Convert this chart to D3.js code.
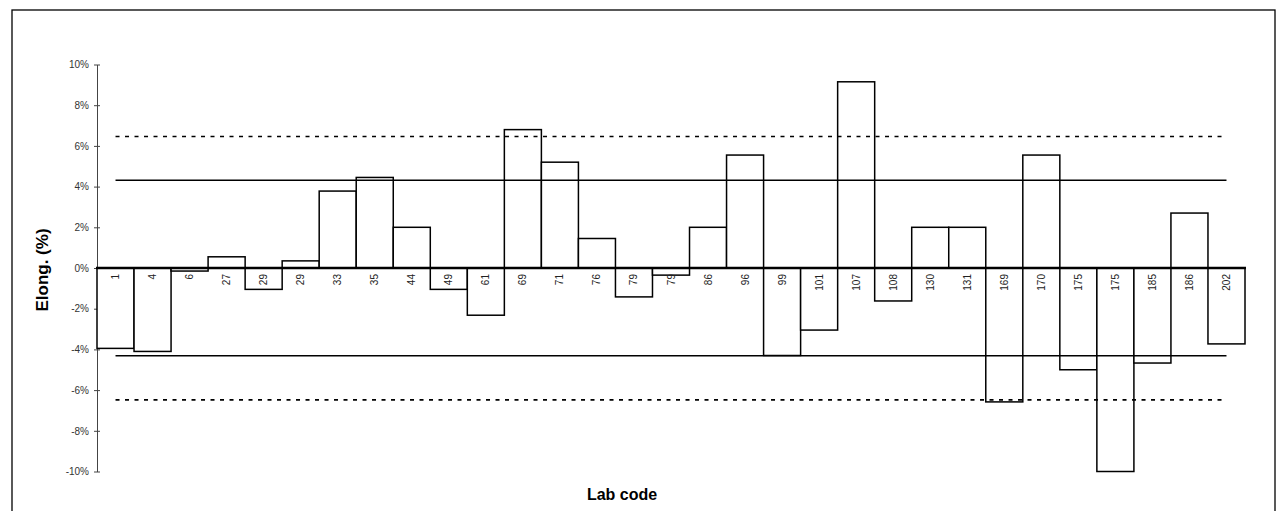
<!DOCTYPE html>
<html>
<head>
<meta charset="utf-8">
<script src="https://cdn.jsdelivr.net/npm/d3@7"></script>
<style>
  html, body { margin: 0; padding: 0; background: #fff; }
  svg { display: block; }
  text { font-family: "Liberation Sans", Arial, sans-serif; }
</style>
</head>
<body>
<svg id="chart" width="1282" height="511"></svg>
<script>
// ---- data ----
const labCodes = ["1","4","6","27","29","29","33","35","44","49","61","69","71","76","79","79","86","96","99","101","107","108","130","131","169","170","175","175","185","186","202"];
const elongValues = [-3.95,-4.1,-0.15,0.55,-1.05,0.35,3.78,4.45,2.0,-1.05,-2.32,6.8,5.2,1.45,-1.42,-0.35,2.0,5.55,-4.3,-3.05,9.15,-1.62,2.0,2.0,-6.58,5.55,-5.0,-10.0,-4.67,2.7,-3.73];
const solidLimits = [4.31, -4.31];
const dottedLimits = [6.46, -6.48];
const yTicks = [-10,-8,-6,-4,-2,0,2,4,6,8,10];

// ---- layout ----
const svg = d3.select("#chart");
const x = d3.scaleBand().domain(d3.range(labCodes.length)).range([97, 1245]).padding(0);
const y = d3.scaleLinear().domain([-10, 10]).range([471.5, 64.5]);

// outer border
svg.append("rect").attr("x", 12).attr("y", 10).attr("width", 1263).attr("height", 520)
  .attr("fill", "none").attr("stroke", "#000").attr("stroke-width", 1.3);

// y axis
const yAxis = d3.axisLeft(y).tickValues(yTicks).tickSize(0)
  .tickFormat(d => d + "%");
const gy = svg.append("g").attr("transform", "translate(97,0)").call(yAxis);
gy.select(".domain").attr("stroke", "#444").attr("stroke-width", 1);
gy.selectAll(".tick text").attr("x", -8).attr("font-size", 10).attr("fill", "#333")
  .attr("font-family", "Liberation Sans, Arial, sans-serif");
gy.selectAll(".tick").append("line").attr("x1", -3).attr("x2", 3)
  .attr("stroke", "#444").attr("stroke-width", 1);

// bars
svg.append("g").selectAll("rect").data(elongValues).join("rect")
  .attr("x", (d, i) => x(i))
  .attr("width", x.bandwidth())
  .attr("y", d => y(Math.max(0, d)))
  .attr("height", d => Math.abs(y(d) - y(0)))
  .attr("fill", "#fff").attr("stroke", "#000").attr("stroke-width", 1.5);

// reference lines from first to last bar centre
const xStart = x(0) + x.bandwidth() / 2;
const xEnd = x(labCodes.length - 1) + x.bandwidth() / 2;
svg.append("g").selectAll("line").data(solidLimits).join("line")
  .attr("x1", xStart).attr("x2", xEnd)
  .attr("y1", d => y(d)).attr("y2", d => y(d))
  .attr("stroke", "#000").attr("stroke-width", 1.4);
svg.append("g").selectAll("line").data(dottedLimits).join("line")
  .attr("x1", xStart).attr("x2", xEnd)
  .attr("y1", d => y(d)).attr("y2", d => y(d))
  .attr("stroke", "#000").attr("stroke-width", 1.6).attr("stroke-dasharray", "4,5.5");

// zero line
svg.append("line").attr("x1", 96).attr("x2", 1246)
  .attr("y1", y(0)).attr("y2", y(0))
  .attr("stroke", "#000").attr("stroke-width", 2.6);

// category labels (rotated, below zero line)
svg.append("g").selectAll("text").data(labCodes).join("text")
  .attr("transform", (d, i) => `translate(${x(i) + x.bandwidth() / 2 + 3.5},${y(0) + 6}) rotate(-90)`)
  .attr("text-anchor", "end")
  .attr("font-size", 10).attr("fill", "#222")
  .text(d => d);

// axis titles
svg.append("text").attr("transform", "translate(48,270) rotate(-90)")
  .attr("text-anchor", "middle").attr("font-size", 17).attr("font-weight", "bold")
  .text("Elong. (%)");
svg.append("text").attr("x", 622).attr("y", 500)
  .attr("text-anchor", "middle").attr("font-size", 16).attr("font-weight", "bold")
  .text("Lab code");
</script>
</body>
</html>
